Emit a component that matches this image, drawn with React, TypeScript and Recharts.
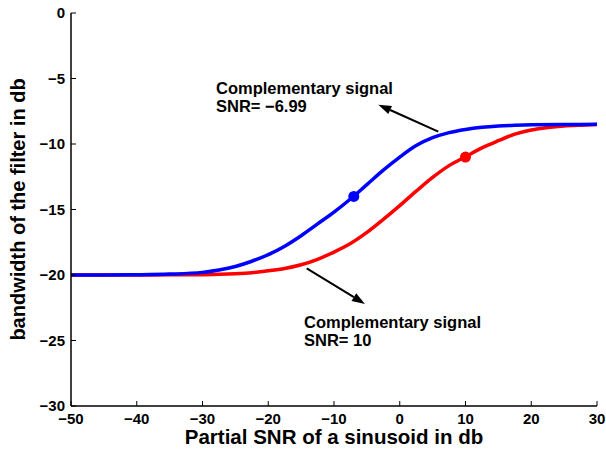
import { ComposedChart, Line, Scatter, XAxis, YAxis, ReferenceLine, ReferenceDot } from 'recharts'

const FONT = "'Liberation Sans', Arial, Helvetica, sans-serif"

// filter bandwidth (db) vs partial SNR (db) for the two complementary signals
const lowSnrCurve = [
  { x: -50, y: -20 }, { x: -45, y: -20 }, { x: -40, y: -19.98 }, { x: -35, y: -19.93 },
  { x: -30, y: -19.8 }, { x: -27.5, y: -19.62 }, { x: -25, y: -19.35 }, { x: -22.5, y: -18.95 },
  { x: -20, y: -18.45 }, { x: -17.5, y: -17.8 }, { x: -15, y: -17.0 }, { x: -12.5, y: -16.1 },
  { x: -10, y: -15.2 }, { x: -7.5, y: -14.2 }, { x: -5, y: -13.1 }, { x: -2.5, y: -12.0 },
  { x: 0, y: -11.0 }, { x: 2.5, y: -10.12 }, { x: 5, y: -9.52 }, { x: 7.5, y: -9.13 },
  { x: 10, y: -8.89 }, { x: 12.5, y: -8.73 }, { x: 15, y: -8.63 }, { x: 17.5, y: -8.57 },
  { x: 20, y: -8.53 }, { x: 25, y: -8.51 }, { x: 30, y: -8.5 },
]

const highSnrCurve = [
  { x: -50, y: -20 }, { x: -40, y: -20 }, { x: -35, y: -19.99 }, { x: -30, y: -19.98 },
  { x: -27.5, y: -19.95 }, { x: -25, y: -19.9 }, { x: -22.5, y: -19.82 }, { x: -20, y: -19.68 },
  { x: -17.5, y: -19.5 }, { x: -15, y: -19.22 }, { x: -12.5, y: -18.8 }, { x: -10, y: -18.25 },
  { x: -7.5, y: -17.6 }, { x: -5, y: -16.75 }, { x: -2.5, y: -15.75 }, { x: 0, y: -14.7 },
  { x: 2.5, y: -13.6 }, { x: 5, y: -12.55 }, { x: 7.5, y: -11.65 }, { x: 10, y: -10.98 },
  { x: 12.5, y: -10.3 }, { x: 15, y: -9.75 }, { x: 17.5, y: -9.25 }, { x: 20, y: -8.93 },
  { x: 22.5, y: -8.74 }, { x: 25, y: -8.62 }, { x: 27.5, y: -8.56 }, { x: 30, y: -8.52 },
]

const lowSnrMark = [{ x: -6.99, y: -14 }]
const highSnrMark = [{ x: 10, y: -11 }]

const xTicks = [-50, -40, -30, -20, -10, 0, 10, 20, 30]
const yTicks = [-30, -25, -20, -15, -10, -5, 0]

// annotation text anchors and arrow segments, in data units
const lowSnrNote = { x: -27.95, y: -6.15, lines: ['Complementary signal', 'SNR= \u22126.99'] }
const highSnrNote = { x: -14.56, y: -24.05, lines: ['Complementary signal', 'SNR= 10'] }
const lowSnrArrow = [{ x: 5.86, y: -9.05 }, { x: -3.26, y: -7.0 }]
const highSnrArrow = [{ x: -14.15, y: -19.49 }, { x: -5.29, y: -22.21 }]

const minus = (v: number) => String(v).replace('-', '\u2212')

function Arrow(props: any) {
  const { x1, y1, x2, y2 } = props
  const a = Math.atan2(y2 - y1, x2 - x1)
  const len = 13
  const half = 4.5
  const bx = x2 - len * Math.cos(a)
  const by = y2 - len * Math.sin(a)
  const px = -Math.sin(a) * half
  const py = Math.cos(a) * half
  return (
    <g>
      <line x1={x1} y1={y1} x2={bx} y2={by} stroke="#000" strokeWidth={2} />
      <polygon points={`${x2},${y2} ${bx + px},${by + py} ${bx - px},${by - py}`} fill="#000" />
    </g>
  )
}

function Note({ cx, cy, lines }: { cx?: number; cy?: number; lines: string[] }) {
  return (
    <text x={cx} y={cy} fontFamily={FONT} fontWeight="bold" fontSize={16.5} fill="#000">
      {lines.map((t, i) => (
        <tspan key={i} x={cx} dy={i === 0 ? 0 : 18}>
          {t}
        </tspan>
      ))}
    </text>
  )
}

function XTick({ x, y, payload }: any) {
  return (
    <text x={x} y={y} dy="0.71em" textAnchor="middle" fontFamily={FONT} fontWeight="bold" fontSize={15} fill="#000">
      {minus(payload.value)}
    </text>
  )
}

function YTick({ x, y, payload }: any) {
  return (
    <text x={x} y={y} dy="0.36em" textAnchor="end" fontFamily={FONT} fontWeight="bold" fontSize={15} fill="#000">
      {minus(payload.value)}
    </text>
  )
}

const blank = () => <g />

export default function App() {
  return (
    <div style={{ position: 'absolute', left: 0, top: 0, width: 606, height: 450, background: '#fff' }}>
      <ComposedChart width={606} height={450} margin={{ top: 13, right: 9, bottom: 0, left: 0 }}>
        <XAxis
          dataKey="x"
          type="number"
          domain={[-50, 30]}
          ticks={xTicks}
          tick={XTick}
          tickSize={-5}
          tickMargin={12}
          height={44}
          axisLine={{ stroke: '#000', strokeWidth: 1.5 }}
          tickLine={{ stroke: '#000', strokeWidth: 1 }}
          label={{
            content: ({ viewBox }: any) => (
              <text
                x={viewBox.x + viewBox.width / 2}
                y={viewBox.y + 38}
                textAnchor="middle"
                fontFamily={FONT}
                fontWeight="bold"
                fontSize={20.5}
                fill="#000"
              >
                Partial SNR of a sinusoid in db
              </text>
            ),
          }}
        />
        <XAxis
          xAxisId="top"
          orientation="top"
          type="number"
          domain={[-50, 30]}
          ticks={xTicks}
          tick={blank}
          tickSize={-5}
          height={0}
          axisLine={{ stroke: '#000', strokeWidth: 1.5 }}
          tickLine={{ stroke: '#000', strokeWidth: 1 }}
        />
        <YAxis
          type="number"
          domain={[-30, 0]}
          ticks={yTicks}
          tick={YTick}
          tickSize={-5}
          tickMargin={11}
          width={71}
          axisLine={{ stroke: '#000', strokeWidth: 1.5 }}
          tickLine={{ stroke: '#000', strokeWidth: 1 }}
          label={{
            content: ({ viewBox }: any) => {
              const cx = viewBox.x + 25
              const cy = viewBox.y + viewBox.height / 2
              return (
                <text
                  x={cx}
                  y={cy}
                  transform={`rotate(-90 ${cx} ${cy})`}
                  textAnchor="middle"
                  fontFamily={FONT}
                  fontWeight="bold"
                  fontSize={20}
                  fill="#000"
                >
                  bandwidth of the filter in db
                </text>
              )
            },
          }}
        />
        <YAxis
          yAxisId="right"
          orientation="right"
          type="number"
          domain={[-30, 0]}
          ticks={yTicks}
          tick={blank}
          tickSize={-5}
          width={0}
          axisLine={{ stroke: '#000', strokeWidth: 1.5 }}
          tickLine={{ stroke: '#000', strokeWidth: 1 }}
        />
        <Line
          data={highSnrCurve}
          dataKey="y"
          type="monotone"
          stroke="#ff0000"
          strokeWidth={3.5}
          dot={false}
          isAnimationActive={false}
        />
        <Line
          data={lowSnrCurve}
          dataKey="y"
          type="monotone"
          stroke="#0000ff"
          strokeWidth={3.5}
          dot={false}
          isAnimationActive={false}
        />
        <Scatter
          data={lowSnrMark}
          dataKey="y"
          isAnimationActive={false}
          shape={(p: any) => <circle cx={p.cx} cy={p.cy} r={5.5} fill="#0000ff" />}
        />
        <Scatter
          data={highSnrMark}
          dataKey="y"
          isAnimationActive={false}
          shape={(p: any) => <circle cx={p.cx} cy={p.cy} r={5.5} fill="#ff0000" />}
        />
        <ReferenceLine segment={lowSnrArrow} shape={Arrow} />
        <ReferenceLine segment={highSnrArrow} shape={Arrow} />
        <ReferenceDot
          x={lowSnrNote.x}
          y={lowSnrNote.y}
          r={0}
          shape={(p: any) => <Note cx={p.cx} cy={p.cy} lines={lowSnrNote.lines} />}
        />
        <ReferenceDot
          x={highSnrNote.x}
          y={highSnrNote.y}
          r={0}
          shape={(p: any) => <Note cx={p.cx} cy={p.cy} lines={highSnrNote.lines} />}
        />
      </ComposedChart>
    </div>
  )
}
